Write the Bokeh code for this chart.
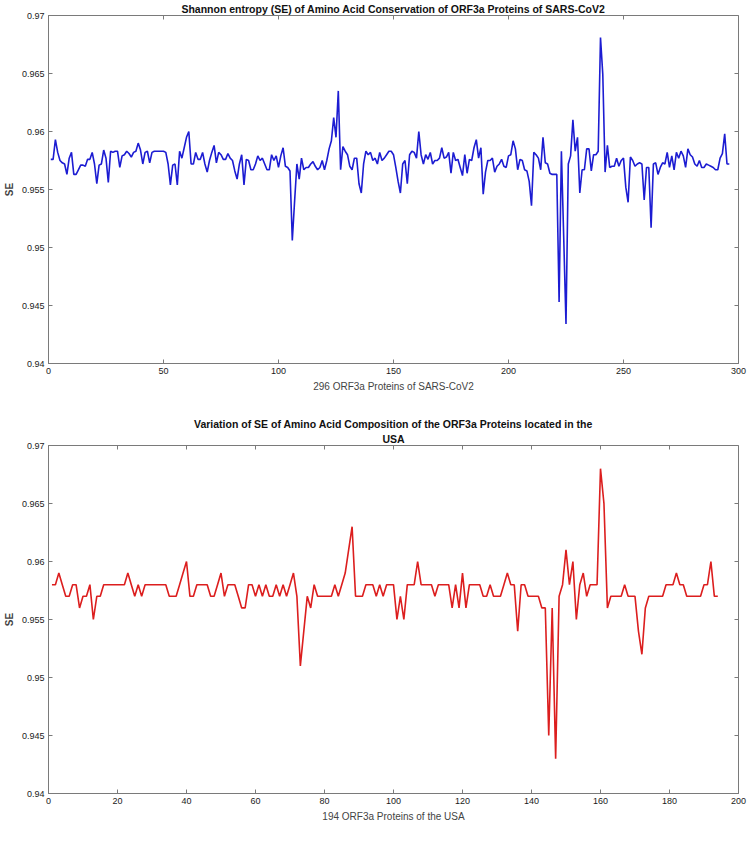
import math
from bokeh.plotting import figure
from bokeh.models import FixedTicker, Range1d, Title
from bokeh.layouts import column
from bokeh.embed import file_html
from bokeh.resources import INLINE

# ---------------- data ----------------
se_all_orf3a = [
    0.9576, 0.9576, 0.9593, 0.9582, 0.9575, 0.9573, 0.9572, 0.9563, 0.9577, 0.9582,
    0.9563, 0.9563, 0.9567, 0.9571, 0.9571, 0.9570, 0.9576, 0.9576, 0.9582, 0.9572,
    0.9555, 0.9571, 0.9572, 0.9584, 0.9577, 0.9556, 0.9583, 0.9582, 0.9583, 0.9583,
    0.9569, 0.9579, 0.9580, 0.9583, 0.9581, 0.9578, 0.9582, 0.9583, 0.9590, 0.9584,
    0.9572, 0.9582, 0.9583, 0.9573, 0.9582, 0.9583, 0.9583, 0.9583, 0.9583, 0.9583,
    0.9582, 0.9572, 0.9554, 0.9571, 0.9572, 0.9554, 0.9583, 0.9577, 0.9586, 0.9595,
    0.9600, 0.9572, 0.9572, 0.9582, 0.9576, 0.9576, 0.9582, 0.9572, 0.9565, 0.9575,
    0.9582, 0.9588, 0.9573, 0.9582, 0.9580, 0.9576,
    0.9576, 0.9581, 0.9577, 0.9575, 0.9566, 0.9559, 0.9572, 0.9580, 0.9554, 0.9576,
    0.9575, 0.9567, 0.9567, 0.9572, 0.9579, 0.9575, 0.9577, 0.9572, 0.9567, 0.9567,
    0.9580, 0.9575, 0.9579, 0.9569, 0.9579, 0.9586, 0.9570, 0.9569, 0.9566, 0.9506,
    0.9540, 0.9572, 0.9559, 0.9577, 0.9567, 0.9569, 0.9569, 0.9572, 0.9574, 0.9570,
    0.9567, 0.9569, 0.9575, 0.9567, 0.9575, 0.9585, 0.9592, 0.9612, 0.9595, 0.9635,
    0.9567, 0.9587, 0.9583, 0.9580, 0.9570, 0.9567, 0.9577, 0.9577, 0.9555, 0.9547,
    0.9572, 0.9583, 0.9580, 0.9582, 0.9575, 0.9577, 0.9572, 0.9582, 0.9575, 0.9577,
    0.9580, 0.9583, 0.9583, 0.9580,
    0.9569, 0.9557, 0.9547, 0.9572, 0.9575, 0.9555, 0.9580, 0.9583, 0.9582, 0.9577,
    0.9600, 0.9580, 0.9572, 0.9580, 0.9576, 0.9582, 0.9572, 0.9575, 0.9575, 0.9577,
    0.9586, 0.9577, 0.9578, 0.9582, 0.9564, 0.9582, 0.9575, 0.9576, 0.9569, 0.9562,
    0.9580, 0.9564, 0.9576, 0.9575, 0.9586, 0.9593, 0.9577, 0.9586, 0.9546, 0.9565,
    0.9575, 0.9575, 0.9577, 0.9565, 0.9570, 0.9572, 0.9576, 0.9570, 0.9569, 0.9579,
    0.9580, 0.9592, 0.9585, 0.9567, 0.9576, 0.9575, 0.9567, 0.9566, 0.9557, 0.9536,
    0.9582, 0.9580, 0.9577, 0.9567, 0.9595, 0.9573, 0.9572, 0.9564, 0.9563, 0.9563,
    0.9563, 0.9453, 0.9583, 0.9509, 0.9434,
    0.9572, 0.9579, 0.9610, 0.9583, 0.9595, 0.9547, 0.9567, 0.9567, 0.9585, 0.9585,
    0.9566, 0.9580, 0.9580, 0.9583, 0.9681, 0.9649, 0.9565, 0.9588, 0.9569, 0.9570,
    0.9570, 0.9577, 0.9570, 0.9575, 0.9577, 0.9552, 0.9539, 0.9578, 0.9575, 0.9570,
    0.9572, 0.9573, 0.9572, 0.9541, 0.9569, 0.9569, 0.9517, 0.9572, 0.9573, 0.9563,
    0.9569, 0.9573, 0.9572, 0.9582, 0.9569, 0.9579, 0.9567, 0.9582, 0.9577, 0.9583,
    0.9579, 0.9569, 0.9585, 0.9580, 0.9578, 0.9572, 0.9570, 0.9575, 0.9569, 0.9569,
    0.9572, 0.9571, 0.9570, 0.9569, 0.9567, 0.9567, 0.9577, 0.9581, 0.9598, 0.9572,
    0.9572,
]

se_usa_orf3a = [
    0.958, 0.958, 0.959, 0.958, 0.957, 0.957, 0.958, 0.958, 0.956, 0.957,
    0.957, 0.958, 0.955, 0.957, 0.957, 0.958, 0.958, 0.958, 0.958, 0.958,
    0.958, 0.958, 0.959, 0.958, 0.957, 0.958, 0.957, 0.958, 0.958, 0.958,
    0.958, 0.958, 0.958, 0.958, 0.957, 0.957, 0.957, 0.958, 0.959, 0.960,
    0.957, 0.957, 0.958, 0.958, 0.958, 0.958, 0.957, 0.957, 0.958, 0.959,
    0.957, 0.958, 0.958, 0.958, 0.957, 0.956, 0.956, 0.958, 0.958, 0.957,
    0.958, 0.957, 0.958, 0.957, 0.957, 0.958, 0.957, 0.958, 0.957, 0.958,
    0.959, 0.957, 0.951, 0.954, 0.957, 0.956, 0.958, 0.957, 0.957, 0.957,
    0.957, 0.957, 0.958, 0.957, 0.958, 0.959, 0.961, 0.963, 0.957, 0.957,
    0.957, 0.958, 0.958, 0.958, 0.957, 0.958, 0.957, 0.958, 0.958, 0.958,
    0.955, 0.957, 0.955, 0.958, 0.958, 0.958, 0.960, 0.958, 0.958, 0.958,
    0.958, 0.957, 0.958, 0.958, 0.958, 0.958, 0.956, 0.958, 0.956, 0.959,
    0.956, 0.958, 0.958, 0.958, 0.958, 0.957, 0.957, 0.958, 0.957, 0.957,
    0.957, 0.958, 0.959, 0.958, 0.958, 0.954, 0.958, 0.958, 0.957, 0.957,
    0.957, 0.957, 0.956, 0.956, 0.945, 0.956, 0.943, 0.957, 0.958, 0.961,
    0.958, 0.960, 0.955, 0.958, 0.959, 0.957, 0.958, 0.958, 0.958, 0.968,
    0.965, 0.956, 0.957, 0.957, 0.957, 0.957, 0.958, 0.957, 0.957, 0.957,
    0.954, 0.952, 0.956, 0.957, 0.957, 0.957, 0.957, 0.957, 0.958, 0.958,
    0.958, 0.959, 0.958, 0.958, 0.957, 0.957, 0.957, 0.957, 0.957, 0.958,
    0.958, 0.960, 0.957, 0.957,
]

protein_idx_all = list(range(1, len(se_all_orf3a) + 1))
protein_idx_usa = list(range(1, len(se_usa_orf3a) + 1))

y_ticks = [0.94, 0.945, 0.95, 0.955, 0.96, 0.965, 0.97]
y_tick_labels = ["0.94", "0.945", "0.95", "0.955", "0.96", "0.965", "0.97"]
x_ticks_all = [0, 50, 100, 150, 200, 250, 300]
x_ticks_usa = [0, 20, 40, 60, 80, 100, 120, 140, 160, 180, 200]

title_all = ["Shannon entropy (SE) of Amino Acid Conservation of ORF3a Proteins of SARS-CoV2"]
title_usa = ["Variation of SE of Amino Acid Composition of the ORF3a Proteins located in the", "USA"]
xlabel_all = "296 ORF3a Proteins of SARS-CoV2"
xlabel_usa = "194 ORF3a Proteins of the USA"
ylabel = "SE"

FONT = "Liberation Sans"
AX_COLOR = "#7a7a7a"
Y_MIN, Y_MAX = 0.94, 0.97


def style_axis(ax):
    ax.axis_line_color = AX_COLOR
    ax.axis_line_width = 1
    ax.major_tick_line_color = AX_COLOR
    ax.major_tick_in = 4
    ax.major_tick_out = 0
    ax.minor_tick_line_color = None
    ax.major_label_text_font = FONT
    ax.major_label_text_color = "#1a1a1a"
    ax.major_label_text_font_size = "9px"
    ax.major_label_standoff = 4


def make_fig(title_lines, xlabel, xs, ys, color, xmax, xticks, height, top_border):
    p = figure(width=747, height=height, output_backend="svg", toolbar_location=None,
               x_range=Range1d(0, xmax), y_range=Range1d(Y_MIN, Y_MAX),
               min_border_left=40, min_border_right=9,
               min_border_top=top_border, min_border_bottom=34)
    # first line is the figure title; later lines are added nearer the frame
    p.title.text = title_lines[0]
    titles = [p.title]
    for extra in title_lines[1:]:
        t = Title(text=extra)
        p.add_layout(t, "above")
        titles.append(t)
    for t in titles:
        t.align = "center"
        t.text_font = FONT
        t.text_font_size = "10.5px"
        t.text_font_style = "bold"
        t.text_color = "#111111"
        t.standoff = 1
        t.offset = 0

    p.grid.visible = False
    p.outline_line_color = AX_COLOR
    p.background_fill_color = "white"
    p.border_fill_color = "white"

    p.line(xs, ys, line_color=color, line_width=1.6)

    # mirrored inward ticks on the top and right edges of the box (clipped to frame)
    p.scatter(x=xticks, y=[Y_MAX] * len(xticks), marker="dash", angle=math.pi / 2,
              size=8, line_color=AX_COLOR, line_width=1)
    p.scatter(x=[xmax] * len(y_ticks), y=y_ticks, marker="dash",
              size=8, line_color=AX_COLOR, line_width=1)

    xa = p.xaxis[0]
    xa.ticker = FixedTicker(ticks=xticks)
    style_axis(xa)
    xa.axis_label = xlabel
    xa.axis_label_text_font = FONT
    xa.axis_label_text_font_size = "10px"
    xa.axis_label_text_font_style = "normal"
    xa.axis_label_standoff = 4

    ya = p.yaxis[0]
    ya.ticker = FixedTicker(ticks=y_ticks)
    ya.major_label_overrides = {t: l for t, l in zip(y_ticks, y_tick_labels)}
    style_axis(ya)
    ya.axis_label = ylabel
    ya.axis_label_text_font = FONT
    ya.axis_label_text_font_size = "10px"
    ya.axis_label_text_font_style = "bold"
    ya.axis_label_standoff = 4
    return p


p1 = make_fig(title_all, xlabel_all, protein_idx_all, se_all_orf3a, "#1c1cd2",
              300, x_ticks_all, 397, 8)
p2 = make_fig(title_usa, xlabel_usa, protein_idx_usa, se_usa_orf3a, "#dc1e1e",
              200, x_ticks_usa, 430, 48)

layout = column(p1, p2, spacing=0)
open("out.html", "w").write(file_html(layout, INLINE))
